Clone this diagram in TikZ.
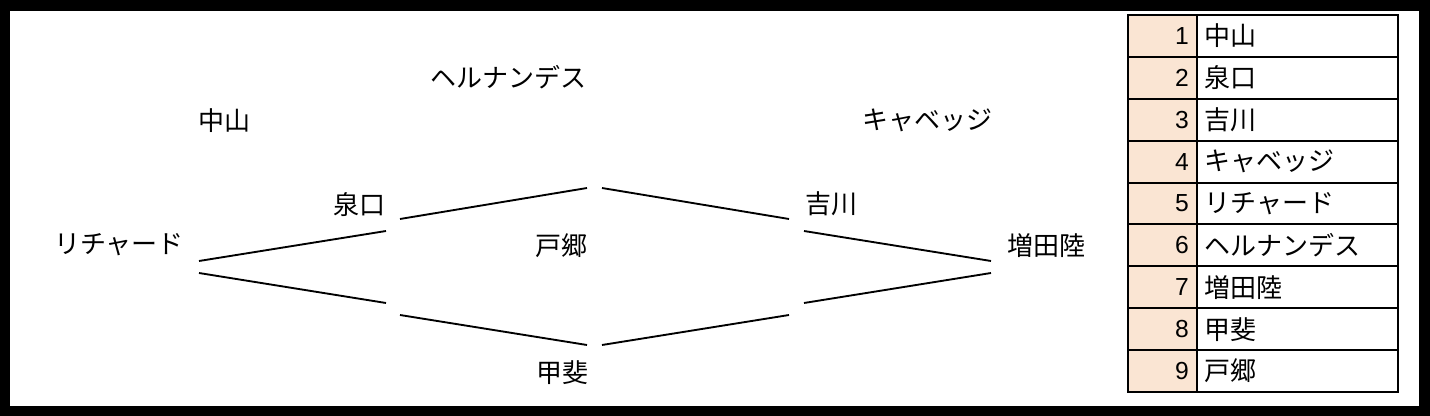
\documentclass[tikz,border=0pt]{standalone}
\usepackage{fontspec}
\setmainfont{Liberation Sans}
\newfontfamily\jp{Noto Sans CJK JP}
\definecolor{peach}{RGB}{250,229,211}
\begin{document}
\begin{tikzpicture}[x=0.75pt,y=-0.75pt,
  lbl/.style={font=\jp\fontsize{19.5}{22}\selectfont, inner sep=0pt},
  num/.style={font=\fontsize{18.5}{20}\selectfont, inner sep=0pt, anchor=east},
  seg/.style={line width=1.4pt},
  gridline/.style={line width=1.5pt}]
\fill[black] (0,0) rectangle (1430,416);
\fill[white] (10,11) rectangle (1419,406);
\useasboundingbox (0,0) rectangle (1430,416);

% player names
\node[lbl] (n1) at (224,121) {中山};
\node[lbl] (n6) at (508,77) {ヘルナンデス};
\node[lbl] (n4) at (927,120) {キャベッジ};
\node[lbl] (n2) at (359,205) {泉口};
\node[lbl] (n3) at (831,204) {吉川};
\node[lbl] (n5) at (119,245) {リチャード};
\node[lbl] (n9) at (561,246) {戸郷};
\node[lbl] (n7) at (1046,246) {増田陸};
\node[lbl] (n8) at (562,373) {甲斐};

% diamond segments
\coordinate (a1) at (199,261); \coordinate (a2) at (386,231);
\coordinate (b1) at (400,219); \coordinate (b2) at (587,188);
\coordinate (c1) at (602,188); \coordinate (c2) at (789,219);
\coordinate (d1) at (804,231); \coordinate (d2) at (991,261);
\coordinate (e1) at (199,273); \coordinate (e2) at (386,303);
\coordinate (f1) at (400,315); \coordinate (f2) at (587,345);
\coordinate (g1) at (602,345); \coordinate (g2) at (789,315);
\coordinate (h1) at (804,303); \coordinate (h2) at (991,273);
\draw[seg] (a1) -- (a2);
\draw[seg] (b1) -- (b2);
\draw[seg] (c1) -- (c2);
\draw[seg] (d1) -- (d2);
\draw[seg] (e1) -- (e2);
\draw[seg] (f1) -- (f2);
\draw[seg] (g1) -- (g2);
\draw[seg] (h1) -- (h2);

% table
\fill[peach] (1128,15) rectangle (1197,392);
\foreach \i/\t in {1/中山,2/泉口,3/吉川,4/キャベッジ,5/リチャード,6/ヘルナンデス,7/増田陸,8/甲斐,9/戸郷}{
  \pgfmathsetmacro{\yc}{15+41.89*(\i-0.5)}
  \node[num] (r\i) at (1189,\yc) {\i};
  \node[lbl,anchor=west] (t\i) at (1204,\yc) {\t};
}
\foreach \k in {1,...,8}{
  \pgfmathsetmacro{\yl}{15+41.89*\k}
  \draw[gridline] (1128,\yl) -- (1398,\yl);
}
\draw[gridline] (1197,15) -- (1197,392);
\draw[gridline] (1128,15) rectangle (1398,392);
\end{tikzpicture}
\end{document}
